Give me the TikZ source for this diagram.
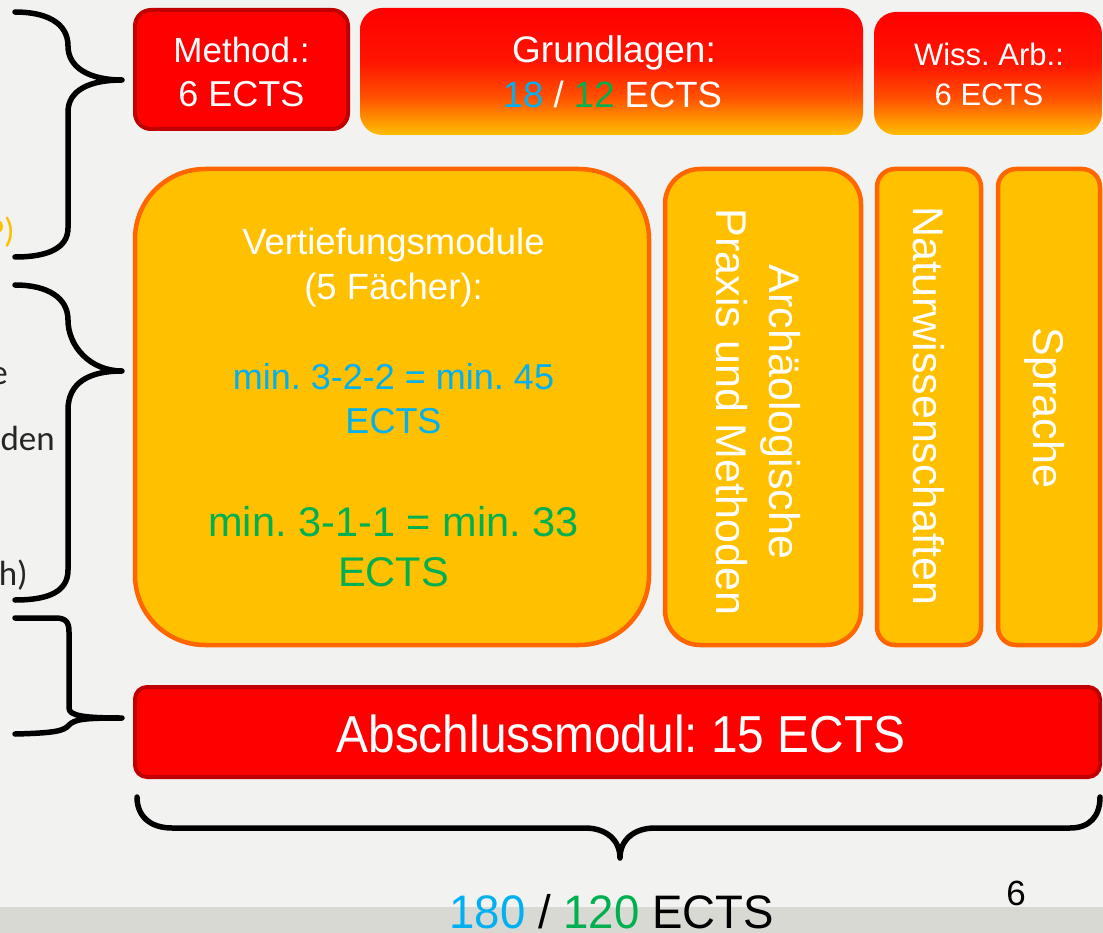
\documentclass[tikz,border=0pt]{standalone}
\usepackage{fontspec}
\setmainfont{Liberation Sans}
\newfontfamily\calfont{Carlito}
\frenchspacing
\definecolor{bg}{HTML}{F2F2F0}
\definecolor{band}{HTML}{D9D9D4}
\definecolor{dred}{HTML}{C00000}
\definecolor{amber}{HTML}{FFC000}
\definecolor{oline}{HTML}{FF6600}
\definecolor{cblue}{HTML}{00B0F0}
\definecolor{cgreen}{HTML}{00B050}
\definecolor{gA}{HTML}{FFBF00}
\definecolor{gB}{HTML}{FF8C00}
\definecolor{gC}{HTML}{FF5000}
\definecolor{gD}{HTML}{FF1500}
\definecolor{txtgray}{HTML}{262626}
\pgfdeclareverticalshading{grad}{100bp}{color(0bp)=(gA); color(25bp)=(gA); color(32bp)=(gB); color(40bp)=(gC); color(54bp)=(gD); color(75bp)=(red); color(100bp)=(red)}
\newcommand\myfs[2]{\fontsize{#1}{#2}\selectfont}
\tikzset{
  redbox/.style={draw=dred, line width=4pt, fill=red, inner sep=0pt},
  gradbox/.style={shading=grad, inner sep=0pt},
  ambox/.style={draw=oline, line width=4.5pt, fill=amber, inner sep=0pt},
  lbl/.style={text=white, inner sep=0pt, anchor=base},
  vlbl/.style={text=white, inner sep=0pt, align=center, rotate=-90},
  frag/.style={inner sep=0pt, anchor=base east, text=txtgray, font=\calfont\myfs{35}{40}},
  brace/.style={line width=5.5pt, line cap=round, line join=round}
}
\begin{document}
\begin{tikzpicture}[x=1pt,y=-1pt]
\useasboundingbox (0,0) rectangle (1103,933);
\clip (0,0) rectangle (1103,933);
\fill[bg] (0,0) rectangle (1103,933);
\fill[band] (0,907) rectangle (1103,933);

% top row
\node[redbox, rounded corners=16pt, minimum width=213pt, minimum height=119pt] (meth) at (241.5,69.5) {};
\node[gradbox, rounded corners=22pt, minimum width=503pt, minimum height=127pt] (grund) at (611.5,71.5) {};
\node[gradbox, rounded corners=22pt, minimum width=228pt, minimum height=123pt] (wiss) at (988,73.5) {};

\node[lbl, font=\myfs{35}{42}] (meth1) at (241.5,63) {Method.:};
\node[lbl, font=\myfs{36}{42}] (meth2) at (241.5,107) {6 ECTS};
\node[lbl, font=\myfs{37}{42}] (grund1) at (614,63) {Grundlagen:};
\node[lbl, font=\myfs{36.5}{42}] (grund2) at (612.5,108) {{\color{cblue}18} / {\color{cgreen}12} ECTS};
\node[lbl, font=\myfs{31}{36}] (wiss1) at (989,66) {Wiss. Arb.:};
\node[lbl, font=\myfs{31}{36}] (wiss2) at (989,106) {6 ECTS};

% middle row
\node[ambox, rounded corners=70pt, minimum width=514pt, minimum height=476pt] (vert) at (392,407) {};
\node[ambox, rounded corners=35pt, minimum width=196pt, minimum height=476pt] (arch) at (763,407) {};
\node[ambox, rounded corners=18pt, minimum width=104pt, minimum height=476pt] (natw) at (929,407) {};
\node[ambox, rounded corners=18pt, minimum width=102pt, minimum height=476pt] (spr) at (1049,407) {};

\node[lbl, font=\myfs{36.5}{42}] (v1) at (393.5,255) {Vertiefungsmodule};
\node[lbl, font=\myfs{36.5}{42}] (v2) at (393.5,300) {(5 Fächer):};
\node[lbl, text=cblue, font=\myfs{36}{42}] (v3) at (393.5,389) {min. 3-2-2 = min. 45};
\node[lbl, text=cblue, font=\myfs{36}{42}] (v4) at (393.5,433) {ECTS};
\node[lbl, text=cgreen, font=\myfs{41.5}{48}] (v5) at (393.5,536) {min. 3-1-1 = min. 33};
\node[lbl, text=cgreen, font=\myfs{41.5}{48}] (v6) at (393.5,586) {ECTS};

\node[vlbl, font=\myfs{43}{53}] (archt) at (758,412) {Archäologische\\Praxis und Methoden};
\node[vlbl, font=\myfs{43}{50}] (natwt) at (929,406) {Naturwissenschaften};
\node[vlbl, font=\myfs{43}{50}] (sprt) at (1045,408) {Sprache};

% bottom box
\node[redbox, rounded corners=12pt, minimum width=965pt, minimum height=90pt] (absch) at (617.5,732) {};
\node[lbl, font=\myfs{52}{60}] (abscht) at (621,752) {\scalebox{0.92}[1]{Abschlussmodul: 15 ECTS}};

% total
\node[lbl, text=black, font=\myfs{47}{54}] (total) at (611.5,928) {\scalebox{0.97}[1]{{\color{cblue}180} / {\color{cgreen}120} ECTS}};
\node[lbl, text=black, font=\myfs{35}{40}] (page) at (1016,905) {6};

% left cut-off text
\node[frag, text=amber] (f1) at (15,243) {P)};
\node[frag] (f2) at (8,384) {e};
\node[frag] (f3) at (55,450) {den};
\node[frag] (f4) at (28,585) {h)};

% braces
\draw[brace] (15,12) .. controls (45,12) and (68,22) .. (68,46)
  .. controls (68,68) and (90,80) .. (122,80)
  .. controls (90,80) and (68,90) .. (68,112)
  -- (68,228) .. controls (68,248) and (48,257) .. (15,257);
\draw[brace] (15,285) .. controls (48,285) and (68,298) .. (68,320)
  .. controls (68,346) and (90,371) .. (122,371)
  .. controls (90,371) and (68,382) .. (68,410)
  -- (68,570) .. controls (68,592) and (48,600) .. (15,600);
\draw[brace] (15,618) -- (55,618) .. controls (66,618) and (69,622) .. (69,632)
  -- (69,708) .. controls (69,716) and (85,718) .. (122,718)
  .. controls (85,718) and (75,719) .. (69,725)
  .. controls (64,731) and (55,733) .. (15,734);
\draw[brace] (137,797) .. controls (137,816) and (150,828) .. (172,828)
  -- (585,828) .. controls (606,828) and (620,840) .. (620,858)
  .. controls (620,840) and (634,828) .. (655,828)
  -- (1070,828) .. controls (1090,828) and (1100,816) .. (1100,797);
\end{tikzpicture}
\end{document}
